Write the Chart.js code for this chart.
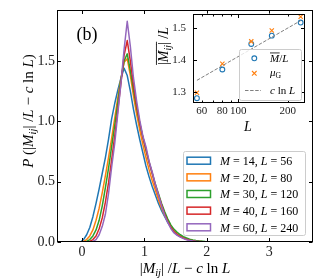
<!DOCTYPE html>
<html>
<head>
<meta charset="utf-8">
<script src="https://cdn.jsdelivr.net/npm/chart.js@4.4.0/dist/chart.umd.min.js"></script>
<style>
  html, body { margin: 0; padding: 0; background: #fff; }
  #wrap { position: relative; width: 319px; height: 279px; }
  #main { position: absolute; left: 0; top: 0; }
  #inset { position: absolute; left: 150px; top: 0; }
</style>
</head>
<body>
<div id="wrap">
  <canvas id="main" width="319" height="279"></canvas>
  <canvas id="inset" width="169" height="140"></canvas>
</div>
<script>
// Histogramas (bins de 0.05 desde 0)
const BIN_START = 0;
const BIN_WIDTH = 0.05;

const p56 = [0.02, 0.06, 0.12, 0.21, 0.32, 0.44, 0.57, 0.70, 0.85, 1.02,
  1.15, 1.26, 1.36, 1.44, 1.38, 1.25, 1.10, 0.97, 0.85, 0.74,
  0.63, 0.54, 0.46, 0.39, 0.32, 0.26, 0.21, 0.16, 0.12, 0.085,
  0.06, 0.045, 0.033, 0.024, 0.017, 0.012, 0.009, 0.006, 0.004, 0.003,
  0.002, 0.001, 0.001, 0.001, 0];
const p80 = [0.005, 0.02, 0.05, 0.10, 0.18, 0.28, 0.41, 0.55, 0.70, 0.86,
  1.03, 1.20, 1.36, 1.49, 1.52, 1.38, 1.21, 1.06, 0.93, 0.81,
  0.70, 0.60, 0.51, 0.43, 0.35, 0.28, 0.22, 0.17, 0.12, 0.09,
  0.065, 0.048, 0.035, 0.025, 0.018, 0.013, 0.009, 0.006, 0.004, 0.003,
  0.002, 0.001, 0];
const p120 = [0, 0.005, 0.02, 0.05, 0.10, 0.18, 0.30, 0.45, 0.61, 0.79,
  0.97, 1.16, 1.35, 1.50, 1.56, 1.42, 1.26, 1.11, 0.98, 0.87,
  0.76, 0.66, 0.57, 0.48, 0.40, 0.32, 0.25, 0.19, 0.14, 0.105,
  0.08, 0.06, 0.045, 0.033, 0.024, 0.017, 0.012, 0.008, 0.006, 0.004,
  0.003, 0.002, 0.001, 0.001, 0.001, 0];
const p160 = [0, 0, 0.005, 0.02, 0.05, 0.11, 0.20, 0.33, 0.49, 0.68,
  0.88, 1.10, 1.32, 1.55, 1.67, 1.50, 1.30, 1.13, 0.99, 0.87,
  0.77, 0.66, 0.57, 0.47, 0.39, 0.31, 0.23, 0.17, 0.12, 0.085,
  0.062, 0.045, 0.032, 0.022, 0.015, 0.010, 0.007, 0.005, 0.003, 0.002,
  0.001, 0];
const p240 = [0, 0, 0, 0.005, 0.02, 0.06, 0.13, 0.23, 0.40, 0.62,
  0.82, 1.07, 1.32, 1.60, 1.83, 1.62, 1.36, 1.17, 1.01, 0.88,
  0.79, 0.67, 0.58, 0.48, 0.39, 0.30, 0.22, 0.16, 0.11, 0.075,
  0.055, 0.040, 0.028, 0.019, 0.013, 0.009, 0.006, 0.004, 0.003, 0.002,
  0.001, 0];

const SERIES = [p56, p80, p120, p160, p240];
const SERIES_M = [14, 20, 30, 40, 60];
const SERIES_L = [56, 80, 120, 160, 240];
const COLORS = ["#1f77b4", "#ff7f0e", "#2ca02c", "#d62728", "#9467bd"];

const X_TICKS = [0, 1, 2, 3];
const X_TICK_LABELS = ["0", "1", "2", "3"];
const Y_TICKS = [0, 0.5, 1.0, 1.5];
const Y_TICK_LABELS = ["0.0", "0.5", "1.0", "1.5"];

// Inset
const INSET_L = [56, 80, 120, 160, 240];
const INSET_MBAR = [1.280, 1.370, 1.450, 1.476, 1.517];
const INSET_MU = [1.297, 1.388, 1.458, 1.492, 1.535];
const FIT_L = [56, 240];
const FIT_VAL = [1.336, 1.523];
const INSET_X_TICKS = [60, 80, 100, 200];
const INSET_X_TICK_LABELS = ["60", "80", "100", "200"];
const INSET_X_MINOR = [60, 70, 80, 90, 200];
const INSET_Y_TICKS = [1.3, 1.4, 1.5];
const INSET_Y_TICK_LABELS = ["1.3", "1.4", "1.5"];

const SERIF = '"Liberation Serif", "DejaVu Serif", serif';

// texto tipo mathtext: [texto, estilo, overline]
function partFont(s, size) {
  const it = (s === "i" || s === "s") ? "italic " : "";
  const sz = (s === "s" || s === "sr") ? size * 0.7 : size;
  return it + sz + "px " + SERIF;
}
function drawMath(ctx, parts, x, y, size, align) {
  let total = 0;
  const widths = parts.map(p => {
    ctx.font = partFont(p[1], size);
    const w = ctx.measureText(p[0]).width;
    total += w;
    return w;
  });
  let cx = align === "center" ? x - total / 2 : (align === "right" ? x - total : x);
  ctx.textAlign = "left";
  ctx.textBaseline = "alphabetic";
  parts.forEach((p, i) => {
    ctx.font = partFont(p[1], size);
    const dy = (p[1] === "s" || p[1] === "sr") ? size * 0.22 : 0;
    ctx.fillText(p[0], cx, y + dy);
    if (p[2]) ctx.fillRect(cx, y - size * 0.86, widths[i] + 0.5, 0.8);
    cx += widths[i];
  });
}

// puntos en el centro de cada bin, cerrando en cero
function histPoints(vals) {
  const pts = [{ x: BIN_START - BIN_WIDTH / 2, y: 0 }];
  vals.forEach((v, i) => pts.push({ x: BIN_START + (i + 0.5) * BIN_WIDTH, y: v }));
  pts.push({ x: BIN_START + (vals.length + 0.5) * BIN_WIDTH, y: 0 });
  return pts;
}

// marco con ticks hacia adentro
const framePlugin = {
  id: "frame",
  beforeDatasetsDraw(chart, args, opts) {
    if (!opts.white) return;
    const a = chart.chartArea;
    chart.ctx.save();
    chart.ctx.fillStyle = "#fff";
    chart.ctx.fillRect(a.left, a.top, a.right - a.left, a.bottom - a.top);
    chart.ctx.restore();
  },
  afterDatasetsDraw(chart, args, opts) {
    const { ctx, chartArea: a, scales } = chart;
    ctx.save();
    ctx.strokeStyle = "#000";
    ctx.lineWidth = 1;
    const L = Math.round(a.left) + 0.5, R = Math.round(a.right) - 0.5;
    const T = Math.round(a.top) + 0.5, B = Math.round(a.bottom) - 0.5;
    ctx.strokeRect(L, T, R - L, B - T);
    ctx.beginPath();
    const xt = (list, len) => list.forEach(v => {
      const px = Math.round(scales.x.getPixelForValue(v)) + 0.5;
      ctx.moveTo(px, B); ctx.lineTo(px, B - len);
      ctx.moveTo(px, T); ctx.lineTo(px, T + len);
    });
    const yt = (list, len) => list.forEach(v => {
      const py = Math.round(scales.y.getPixelForValue(v)) + 0.5;
      ctx.moveTo(L, py); ctx.lineTo(L + len, py);
      ctx.moveTo(R, py); ctx.lineTo(R - len, py);
    });
    xt(opts.x, 3.5);
    if (opts.xMinor) xt(opts.xMinor, 2);
    yt(opts.y, 3.5);
    ctx.stroke();
    ctx.restore();
    if (opts.after) opts.after(chart);
  }
};

function drawMainExtras(chart) {
  const ctx = chart.ctx;
  ctx.save();
  ctx.fillStyle = "#000";
  // etiquetas de ejes
  drawMath(ctx, [["|", "r"], ["M", "i"], ["ij", "s"], ["| /", "r"], ["L", "i"],
    [" \u2212 ", "r"], ["c", "i"], [" ln ", "r"], ["L", "i"]], 185, 273, 15, "center");
  ctx.save();
  ctx.translate(33, 111);
  ctx.rotate(-Math.PI / 2);
  drawMath(ctx, [["P", "i"], [" (|", "r"], ["M", "i"], ["ij", "s"], ["| /", "r"], ["L", "i"],
    [" \u2212 ", "r"], ["c", "i"], [" ln ", "r"], ["L", "i"], [")", "r"]], 0, 0, 15, "center");
  ctx.restore();
  drawMath(ctx, [["(b)", "r"]], 87, 40, 18, "center");

  // leyenda
  ctx.fillStyle = "rgba(255,255,255,0.8)";
  ctx.strokeStyle = "#cccccc";
  ctx.lineWidth = 1;
  ctx.beginPath();
  ctx.roundRect(183.5, 151.5, 122, 84, 2);
  ctx.fill();
  ctx.stroke();
  SERIES.forEach((s, i) => {
    const cy = 160.7 + i * 16.65;
    ctx.strokeStyle = COLORS[i];
    ctx.lineWidth = 1.5;
    ctx.strokeRect(187, cy - 3.5, 23.5, 7);
    ctx.fillStyle = "#000";
    drawMath(ctx, [["M", "i"], [" = " + SERIES_M[i] + ", ", "r"], ["L", "i"],
      [" = " + SERIES_L[i], "r"]], 220, cy + 4.3, 12, "left");
  });
  ctx.restore();
}

function drawInsetExtras(chart) {
  const ctx = chart.ctx;
  ctx.save();
  ctx.fillStyle = "#000";
  drawMath(ctx, [["L", "i"]], 98, 131, 14, "center");
  ctx.save();
  ctx.translate(18, 46);
  ctx.rotate(-Math.PI / 2);
  drawMath(ctx, [["|", "r", true], ["M", "i", true], ["ij", "s", true], ["|", "r", true],
    [" /", "r"], ["L", "i"]], 0, 0, 14, "center");
  ctx.restore();

  // leyenda del inset
  ctx.fillStyle = "rgba(255,255,255,0.8)";
  ctx.strokeStyle = "#cccccc";
  ctx.lineWidth = 1;
  ctx.beginPath();
  ctx.roundRect(89.5, 49.5, 62, 51, 2);
  ctx.fill();
  ctx.stroke();
  ctx.strokeStyle = COLORS[0];
  ctx.lineWidth = 1.1;
  ctx.beginPath();
  ctx.arc(104.3, 58.3, 2.4, 0, Math.PI * 2);
  ctx.stroke();
  ctx.strokeStyle = COLORS[1];
  ctx.beginPath();
  ctx.moveTo(102, 71); ctx.lineTo(106.6, 75.6);
  ctx.moveTo(106.6, 71); ctx.lineTo(102, 75.6);
  ctx.stroke();
  ctx.strokeStyle = "#808080";
  ctx.lineWidth = 1;
  ctx.setLineDash([3.5, 1.6]);
  ctx.beginPath();
  ctx.moveTo(95, 90.5); ctx.lineTo(111, 90.5);
  ctx.stroke();
  ctx.setLineDash([]);
  ctx.fillStyle = "#000";
  drawMath(ctx, [["M", "i", true], ["/", "r"], ["L", "i"]], 120, 62, 11, "left");
  drawMath(ctx, [["\u03bc", "i"], ["G", "sr"]], 120, 76, 11, "left");
  drawMath(ctx, [["c", "i"], [" ln ", "r"], ["L", "i"]], 120, 94, 11, "left");
  ctx.restore();
}

new Chart(document.getElementById("main"), {
  type: "line",
  data: {
    datasets: SERIES.map((s, i) => ({
      label: "M = " + SERIES_M[i] + ", L = " + SERIES_L[i],
      data: histPoints(s),
      borderColor: COLORS[i],
      borderWidth: 1.5,
      borderJoinStyle: "round",
      tension: 0,
      pointRadius: 0,
      fill: false,
      order: SERIES.length - i
    }))
  },
  options: {
    responsive: false,
    animation: false,
    devicePixelRatio: 1,
    layout: { padding: { top: 5, right: 6, left: 0, bottom: 0 } },
    plugins: {
      legend: { display: false },
      tooltip: { enabled: false },
      frame: { x: X_TICKS, y: Y_TICKS, after: drawMainExtras }
    },
    scales: {
      x: {
        type: "linear",
        min: -0.4,
        max: 3.7,
        grid: { display: false, drawTicks: false },
        border: { display: false },
        afterBuildTicks: s => { s.ticks = X_TICKS.map(v => ({ value: v })); },
        afterFit: s => { s.height = 37; },
        ticks: {
          padding: 2,
          color: "#222",
          font: { family: SERIF, size: 14 },
          callback: (v, i) => X_TICK_LABELS[i]
        }
      },
      y: {
        min: 0,
        max: 1.92,
        grid: { display: false, drawTicks: false },
        border: { display: false },
        afterBuildTicks: s => { s.ticks = Y_TICKS.map(v => ({ value: v })); },
        afterFit: s => { s.width = 57; },
        ticks: {
          padding: 2,
          color: "#222",
          font: { family: SERIF, size: 14 },
          callback: (v, i) => Y_TICK_LABELS[i]
        }
      }
    }
  },
  plugins: [framePlugin]
});

new Chart(document.getElementById("inset"), {
  type: "scatter",
  data: {
    datasets: [
      {
        label: "fit",
        type: "line",
        data: FIT_L.map((l, i) => ({ x: l, y: FIT_VAL[i] })),
        borderColor: "#808080",
        borderWidth: 1,
        borderDash: [3.5, 1.6],
        pointRadius: 0,
        fill: false
      },
      {
        label: "mu",
        data: INSET_L.map((l, i) => ({ x: l, y: INSET_MU[i] })),
        pointStyle: "crossRot",
        pointRadius: 3,
        borderColor: COLORS[1],
        borderWidth: 1.1
      },
      {
        label: "mbar",
        data: INSET_L.map((l, i) => ({ x: l, y: INSET_MBAR[i] })),
        pointStyle: "circle",
        pointRadius: 2.4,
        borderColor: COLORS[0],
        backgroundColor: "rgba(0,0,0,0)",
        borderWidth: 1.1
      }
    ]
  },
  options: {
    responsive: false,
    animation: false,
    devicePixelRatio: 1,
    layout: { padding: { top: 13, right: 14, left: 0, bottom: 0 } },
    plugins: {
      legend: { display: false },
      tooltip: { enabled: false },
      frame: { x: [100], xMinor: INSET_X_MINOR, y: INSET_Y_TICKS, white: true, after: drawInsetExtras }
    },
    scales: {
      x: {
        type: "logarithmic",
        min: 53,
        max: 255,
        grid: { display: false, drawTicks: false },
        border: { display: false },
        afterBuildTicks: s => { s.ticks = INSET_X_TICKS.map(v => ({ value: v })); },
        afterFit: s => { s.height = 37; },
        ticks: {
          padding: 2,
          color: "#222",
          maxRotation: 0,
          autoSkip: false,
          font: { family: SERIF, size: 11 },
          callback: (v, i) => INSET_X_TICK_LABELS[i]
        }
      },
      y: {
        min: 1.265,
        max: 1.545,
        grid: { display: false, drawTicks: false },
        border: { display: false },
        afterBuildTicks: s => { s.ticks = INSET_Y_TICKS.map(v => ({ value: v })); },
        afterFit: s => { s.width = 43; },
        ticks: {
          padding: 7,
          color: "#222",
          font: { family: SERIF, size: 11 },
          callback: (v, i) => INSET_Y_TICK_LABELS[i]
        }
      }
    }
  },
  plugins: [framePlugin]
});
</script>
</body>
</html>
